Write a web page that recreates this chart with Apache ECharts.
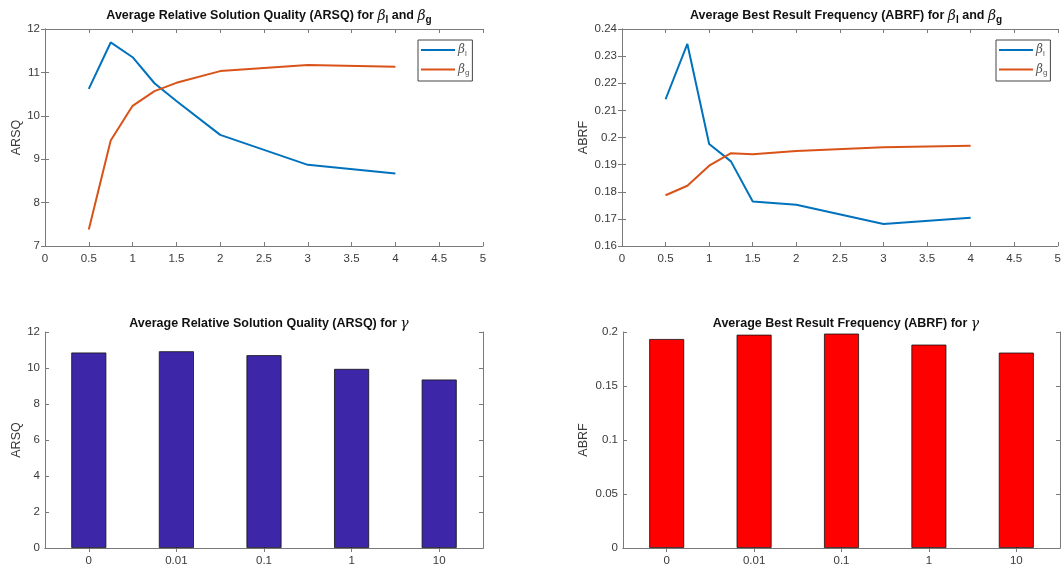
<!DOCTYPE html>
<html lang="en">
<head>
  <meta charset="UTF-8">
  <title>ARSQ / ABRF</title>
  <style>
    html, body { margin: 0; padding: 0; background: #fff; }
  </style>
</head>
<body>
  <div class="wrapper" style="width:1064px;height:573px;"></div>

  <script src="https://cdn.jsdelivr.net/npm/echarts@6/dist/echarts.min.js"></script>
  <script>
    // beta values on the x axis of the two line plots
    const betaX = [0.5, 0.75, 1, 1.25, 1.5, 2, 3, 4]
    const arsqBetaL = [10.62, 11.69, 11.35, 10.75, 10.34, 9.56, 8.87, 8.67]
    const arsqBetaG = [7.38, 9.43, 10.23, 10.57, 10.76, 11.03, 11.17, 11.13]
    const abrfBetaL = [0.2141, 0.2345, 0.1976, 0.1912, 0.1764, 0.1752, 0.1681, 0.1704]
    const abrfBetaG = [0.1787, 0.1822, 0.1896, 0.1942, 0.1938, 0.1950, 0.1964, 0.1970]

    // gamma categories for the bar plots
    const gammaCats = ['0', '0.01', '0.1', '1', '10']
    const arsqGamma = [10.86, 10.93, 10.71, 9.95, 9.36]
    const abrfGamma = [0.1935, 0.1975, 0.1985, 0.1883, 0.1809]

    const blue = '#0072BD'
    const orange = '#D95319'
    const axisCol = '#7a7a7a'
    const labelCol = '#3a3a3a'
    const font = 'Liberation Sans, Arial, sans-serif'

    const echart = echarts.init(document.querySelector('.wrapper'))

    const pairs = (xs, ys) => xs.map((x, i) => [x, ys[i]])

    const grids = [
      { left: 45, top: 29, width: 438, height: 217 },
      { left: 622, top: 29, width: 438, height: 217 },
      { left: 45, top: 332, width: 438, height: 216 },
      { left: 623, top: 332, width: 437, height: 216 }
    ]

    const tickStyle = { show: true, inside: true, length: 4, lineStyle: { color: axisCol } }
    const lineStyle = { show: true, lineStyle: { color: axisCol, width: 1 } }
    const labelStyle = { color: labelCol, fontSize: 11.5, fontFamily: font }

    // every grid gets a bottom + top x axis and a left + right y axis (box look)
    const xAxis = []
    const yAxis = []
    grids.forEach((g, i) => {
      const isBar = i >= 2
      const base = isBar
        ? { type: 'category', data: gammaCats, axisTick: Object.assign({ alignWithLabel: true }, tickStyle) }
        : { type: 'value', min: 0, max: 5, interval: 0.5, axisTick: tickStyle }
      xAxis.push(Object.assign({}, base, {
        gridIndex: i, position: 'bottom',
        axisLine: lineStyle, splitLine: { show: false },
        axisLabel: Object.assign({ margin: 7 }, labelStyle)
      }))
      xAxis.push(Object.assign({}, base, {
        gridIndex: i, position: 'top',
        axisLine: lineStyle, splitLine: { show: false },
        axisLabel: { show: false }
      }))
    })

    const yRanges = [
      { min: 7, max: 12, interval: 1, name: 'ARSQ', gap: 22 },
      { min: 0.16, max: 0.24, interval: 0.01, name: 'ABRF', gap: 32 },
      { min: 0, max: 12, interval: 2, name: 'ARSQ', gap: 22 },
      { min: 0, max: 0.2, interval: 0.05, name: 'ABRF', gap: 33 }
    ]
    yRanges.forEach((r, i) => {
      yAxis.push({
        type: 'value', gridIndex: i, position: 'left',
        min: r.min, max: r.max, interval: r.interval,
        name: r.name, nameLocation: 'middle', nameGap: r.gap,
        nameTextStyle: { color: labelCol, fontSize: 12.5, fontFamily: font },
        axisLine: lineStyle, axisTick: tickStyle, splitLine: { show: false },
        axisLabel: Object.assign({ margin: 5 }, labelStyle)
      })
      yAxis.push({
        type: 'value', gridIndex: i, position: 'right',
        min: r.min, max: r.max, interval: r.interval,
        axisLine: lineStyle, axisTick: tickStyle, splitLine: { show: false },
        axisLabel: { show: false }
      })
    })

    const titleRich = {
      n: { fontSize: 12.5, fontWeight: 'bold', color: '#111', fontFamily: font },
      b: { fontSize: 14, fontStyle: 'italic', fontWeight: 'normal', color: '#111', fontFamily: 'DejaVu Serif, serif' },
      s: { fontSize: 10, fontWeight: 'bold', color: '#111', fontFamily: font, padding: [8, 0, 0, 0] }
    }

    const titles = [
      { x: 264, y: 2, text: '{n|Average Relative Solution Quality (ARSQ) for }{b|β}{s|l}{n| and }{b|β}{s|g}' },
      { x: 841, y: 2, text: '{n|Average Best Result Frequency (ABRF) for }{b|β}{s|l}{n| and }{b|β}{s|g}' },
      { x: 264, y: 312, text: '{n|Average Relative Solution Quality (ARSQ) for }{b|γ}' },
      { x: 841, y: 312, text: '{n|Average Best Result Frequency (ABRF) for }{b|γ}' }
    ]

    const legendRich = {
      b: { fontSize: 12, fontStyle: 'italic', color: '#555', fontFamily: 'DejaVu Serif, serif' },
      s: { fontSize: 8, color: '#555', fontFamily: font, padding: [7, 0, 0, 0] }
    }
    const legendFmt = name => name === 'βl' ? '{b|β}{s|l}' : '{b|β}{s|g}'
    const legendBase = {
      orient: 'vertical', data: ['βl', 'βg'], icon: 'rect',
      itemWidth: 34, itemHeight: 2, itemGap: 6,
      padding: [4, 3, 4, 3], borderColor: '#444', borderWidth: 1, backgroundColor: '#fff',
      formatter: legendFmt, textStyle: { rich: legendRich, padding: [0, 0, 0, -2] },
      selectedMode: false
    }

    const lineSeries = (name, color, xi, yi, data) => ({
      name: name, type: 'line', xAxisIndex: xi, yAxisIndex: yi,
      data: data, showSymbol: false, symbol: 'none',
      lineStyle: { color: color, width: 2 }, itemStyle: { color: color },
      animation: false
    })

    const option = {
      backgroundColor: '#fff',
      title: titles.map(t => ({
        text: t.text, left: t.x, top: t.y, textAlign: 'center',
        textStyle: { rich: titleRich }
      })),
      legend: [
        Object.assign({ left: 418, top: 40 }, legendBase),
        Object.assign({ left: 996, top: 40 }, legendBase)
      ],
      grid: grids,
      xAxis: xAxis,
      yAxis: yAxis,
      series: [
        lineSeries('βl', blue, 0, 0, pairs(betaX, arsqBetaL)),
        lineSeries('βg', orange, 0, 0, pairs(betaX, arsqBetaG)),
        lineSeries('βl', blue, 2, 2, pairs(betaX, abrfBetaL)),
        lineSeries('βg', orange, 2, 2, pairs(betaX, abrfBetaG)),
        {
          type: 'bar', xAxisIndex: 4, yAxisIndex: 4, data: arsqGamma, barWidth: '40%',
          itemStyle: { color: '#3D26A8', borderColor: '#111', borderWidth: 0.8 }, animation: false
        },
        {
          type: 'bar', xAxisIndex: 6, yAxisIndex: 6, data: abrfGamma, barWidth: '40%',
          itemStyle: { color: '#FF0000', borderColor: '#111', borderWidth: 0.8 }, animation: false
        }
      ]
    }

    echart.setOption(option)
  </script>
</body>
</html>
